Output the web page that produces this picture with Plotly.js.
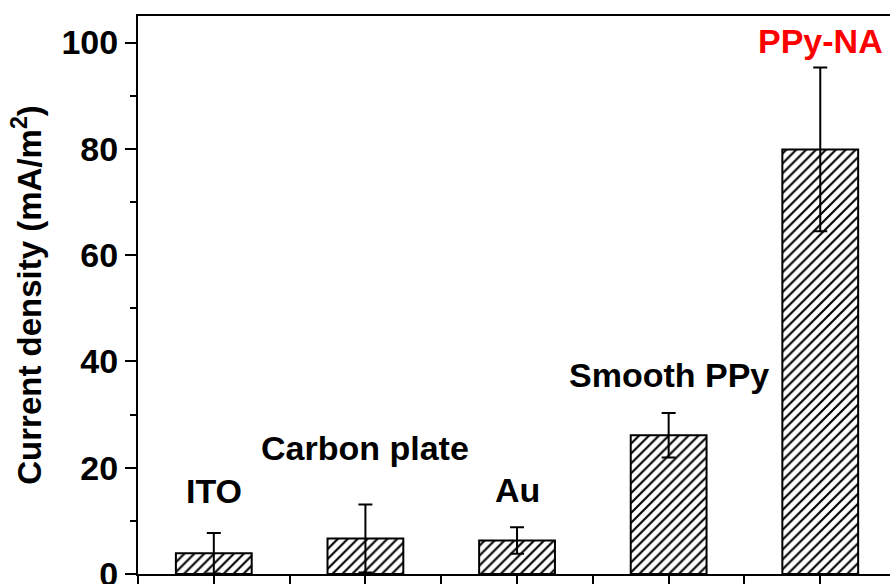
<!DOCTYPE html>
<html>
<head>
<meta charset="utf-8">
<script src="https://cdn.plot.ly/plotly-3.0.1.min.js"></script>
<style>html,body{margin:0;padding:0;background:#fff;}#chart{width:890px;height:584px;}</style>
</head>
<body>
<div id="chart"></div>
<script>
const categories = ["ITO", "Carbon plate", "Au", "Smooth PPy", "PPy-NA"];
const currentDensity = [3.9, 6.7, 6.3, 26.1, 79.9];
const errorValues = [3.8, 6.4, 2.5, 4.2, 15.4];
const labelColors = ["#000", "#000", "#000", "#000", "#ff0000"];
const yTickValues = [0, 20, 40, 60, 80, 100];

const xIdx = categories.map((c, i) => i);
const labelY = [15.6, 23.8, 15.8, 37.4, 100.3];

const font = "Liberation Sans, Arial, sans-serif";

const trace = {
  type: "bar",
  x: xIdx,
  y: currentDensity,
  width: 0.5,
  marker: {
    color: "#fff",
    line: {color: "#000", width: 2},
    pattern: {shape: "/", fgcolor: "#000", bgcolor: "#fff", size: 7, solidity: 0.3}
  },
  error_y: {type: "data", array: errorValues, visible: true, color: "#000", thickness: 2, width: 7},
  hoverinfo: "skip"
};

const annotations = categories.map((c, i) => ({
  x: xIdx[i], y: labelY[i], xref: "x", yref: "y",
  text: "<b>" + c + "</b>", showarrow: false,
  font: {family: font, size: 34, color: labelColors[i]},
  xanchor: "center", yanchor: "middle"
}));

const layout = {
  width: 890, height: 584,
  margin: {l: 138, r: 0, t: 16, b: 10},
  paper_bgcolor: "#fff", plot_bgcolor: "#fff",
  showlegend: false,
  xaxis: {
    range: [-0.5, 4.46],
    tickvals: xIdx, ticktext: categories.map(() => " "),
    ticks: "outside", ticklen: 9, tickwidth: 2, tickcolor: "#000",
    showline: true, linewidth: 2, linecolor: "#000", mirror: true,
    showgrid: false, zeroline: false,
    minor: {tick0: 0.5, dtick: 1, ticks: "outside", ticklen: 9, tickwidth: 2, tickcolor: "#000", showgrid: false}
  },
  yaxis: {
    range: [0, 105],
    tickvals: yTickValues,
    ticktext: yTickValues.map(v => "<b>" + v + "</b>"),
    ticks: "outside", ticklen: 11, tickwidth: 2, tickcolor: "#000",
    tickfont: {family: font, size: 34, color: "#000"},
    ticklabeloverflow: "allow",
    showline: true, linewidth: 2, linecolor: "#000",
    showgrid: false, zeroline: false,
    minor: {dtick: 10, ticks: "outside", ticklen: 6, tickwidth: 2, tickcolor: "#000", showgrid: false},
    title: {text: "<b>Current density (mA/m<sup>2</sup>)</b>", font: {family: font, size: 33, color: "#000"}, standoff: 10}
  },
  annotations: annotations
};

Plotly.newPlot("chart", [trace], layout, {displayModeBar: false, staticPlot: true});
</script>
</body>
</html>
